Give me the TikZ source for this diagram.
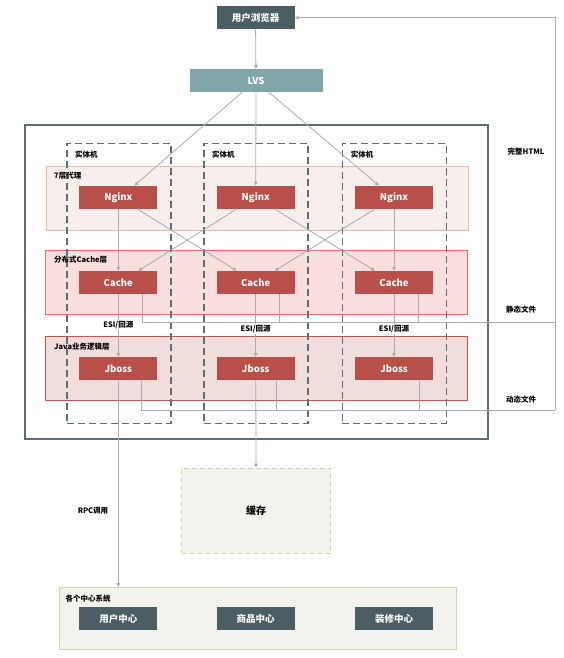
\documentclass[tikz,border=0pt]{standalone}
\usepackage{fontspec}
\setmainfont{Noto Sans CJK SC}
\usepackage{xcolor}
\usetikzlibrary{arrows.meta}

\definecolor{slate}{HTML}{4B5E64}
\definecolor{lvsteal}{HTML}{80A6AA}
\definecolor{boxred}{HTML}{B94F49}
\definecolor{framegray}{HTML}{5E6F74}
\definecolor{linegray}{HTML}{ABABAB}
\definecolor{khaki}{HTML}{D2D3B4}
\definecolor{paper}{HTML}{F3F3EE}
\definecolor{proxyline}{HTML}{EAB9AE}
\definecolor{proxyfill}{HTML}{F8EFEC}
\definecolor{cacheline}{HTML}{EB6E69}
\definecolor{cachefill}{HTML}{FADFDE}
\definecolor{javaline}{HTML}{C4534F}
\definecolor{javafill}{HTML}{F1DDDC}

\begin{document}
\begin{tikzpicture}[x=1pt, y=-1pt,
  redbox/.style={rectangle, fill=boxred, text=white, minimum width=78pt,
                 minimum height=23pt, inner sep=0pt, font=\fontsize{9.5}{10}\selectfont\bfseries},
  darkbox/.style={rectangle, fill=slate, text=white, minimum width=78pt,
                  minimum height=23pt, inner sep=0pt, font=\fontsize{9.5}{10}\selectfont\bfseries},
  band/.style={rectangle, minimum width=422pt, minimum height=64pt, line width=1pt},
  host/.style={rectangle, draw=framegray, line width=1.4pt, dash pattern=on 7pt off 4pt,
               minimum width=104pt, minimum height=280pt},
  tag/.style={anchor=west, inner sep=0pt, font=\fontsize{7.5}{8}\selectfont\bfseries},
  line/.style={draw=linegray, line width=0.8pt},
  arr/.style={line, -{Triangle[length=4pt, width=3.5pt]}},
  esi/.style={fill=white, inner sep=1pt, font=\fontsize{7.5}{8}\selectfont\bfseries}
]
\useasboundingbox (0,0) rectangle (563,658);

% outer frame, layers and hosts
\node[rectangle, draw=framegray, line width=1.5pt, minimum width=463pt,
      minimum height=314pt] (frame) at (256.5,282) {};
\node[band, draw=proxyline, fill=proxyfill] (proxy) at (257.5,198) {};
\node[band, draw=cacheline, fill=cachefill] (cachelayer) at (256.5,282.5) {};
\node[band, draw=javaline, fill=javafill] (javalayer) at (256.5,368.5) {};
\node[host] (host1) at (118.8,283.2) {};
\node[host] (host2) at (255.8,283.2) {};
\node[host] (host3) at (394.3,283.2) {};

\node[tag] (h1) at (75,154.7) {实体机};
\node[tag] (h2) at (212,154.7) {实体机};
\node[tag] (h3) at (350.7,154.7) {实体机};
\node[tag] (tproxy) at (54,176) {7层代理};
\node[tag] (tcache) at (54,260) {分布式Cache层};
\node[tag] (tjava) at (54,346.7) {Java业务逻辑层};
\node[tag] (thtml) at (507.5,151.7) {完整HTML};
\node[tag] (tstatic) at (506,310) {静态文件};
\node[tag] (tdynamic) at (506,399.3) {动态文件};

% boxes
\node[darkbox] (browser) at (255.5,17.7) {用户浏览器};
\node[rectangle, fill=lvsteal, text=white, minimum width=133pt, minimum height=23pt,
      inner sep=0pt, font=\fontsize{9.5}{10}\selectfont\bfseries] (lvs) at (256,80.7) {LVS};

\node[redbox] (ng1) at (118.3,197.3) {Nginx};
\node[redbox] (ng2) at (255.7,197.3) {Nginx};
\node[redbox] (ng3) at (394,197.3) {Nginx};
\node[redbox] (c1) at (118.3,282.5) {Cache};
\node[redbox] (c2) at (255.7,282.5) {Cache};
\node[redbox] (c3) at (394,282.5) {Cache};
\node[redbox] (j1) at (118.3,368.8) {Jboss};
\node[redbox] (j2) at (255.7,368.8) {Jboss};
\node[redbox] (j3) at (394,368.8) {Jboss};

\node[rectangle, draw=khaki, line width=1.2pt, dash pattern=on 5pt off 3pt, fill=paper,
      minimum width=149pt, minimum height=85pt, font=\fontsize{10}{11}\selectfont\bfseries] (store) at (256.2,510.8) {缓存};
\node[rectangle, draw=khaki, line width=1.2pt, fill=paper, minimum width=397pt,
      minimum height=62pt] (centers) at (257.6,618.8) {};
\node[tag] (tcenters) at (65.3,598.3) {各个中心系统};
\node[darkbox] (uc) at (118.3,618.8) {用户中心};
\node[darkbox] (pc) at (255.7,618.8) {商品中心};
\node[darkbox] (dc) at (394,618.8) {装修中心};

% connectors
\coordinate (sback) at (555,322);
\coordinate (dback) at (555,410);
\coordinate (topback) at (555,17.7);

\draw[arr] (browser) -- (lvs);
\draw[arr] ([xshift=-14pt]lvs.south) -- ([xshift=16pt]ng1.north);
\draw[arr] (lvs) -- (ng2);
\draw[arr] ([xshift=13pt]lvs.south) -- ([xshift=-15pt]ng3.north);

\draw[arr] (ng1) -- (c1);
\draw[arr] ([xshift=19pt]ng1.south) -- ([xshift=-19pt]c2.north);
\draw[arr] ([xshift=-19pt]ng2.south) -- ([xshift=20pt]c1.north);
\draw[arr] ([xshift=19pt]ng2.south) -- ([xshift=-19pt]c3.north);
\draw[arr] ([xshift=-19pt]ng3.south) -- ([xshift=19pt]c2.north);
\draw[arr] (ng3) -- (c3);

\draw[arr] (c1) -- (j1);
\draw[arr] (c2) -- (j2);
\draw[arr] (c3) -- (j3);

\draw[line] ([xshift=24pt]c1.south) |- (sback);
\draw[line] ([xshift=24pt]c2.south) -- ([xshift=24pt]c2.south |- sback);
\draw[line] ([xshift=24pt]c3.south) -- ([xshift=24pt]c3.south |- sback);
\draw[line] ([xshift=23pt]j1.south) |- (dback);
\draw[line] ([xshift=21pt]j2.south) -- ([xshift=21pt]j2.south |- dback);
\draw[line] ([xshift=25pt]j3.south) -- ([xshift=25pt]j3.south |- dback);
\draw[arr] (dback) -- (topback) -- (browser.east);

\draw[arr] (j1) -- (j1 |- centers.north);
\draw[arr] (j2) -- (store);

% edge labels
\node[esi] (e1) at (118.3,325) {ESI/回源};
\node[esi] (e2) at (255.7,329.3) {ESI/回源};
\node[esi] (e3) at (394,329.3) {ESI/回源};
\node[esi] (rpc) at (93,511) {RPC调用};
\end{tikzpicture}
\end{document}
